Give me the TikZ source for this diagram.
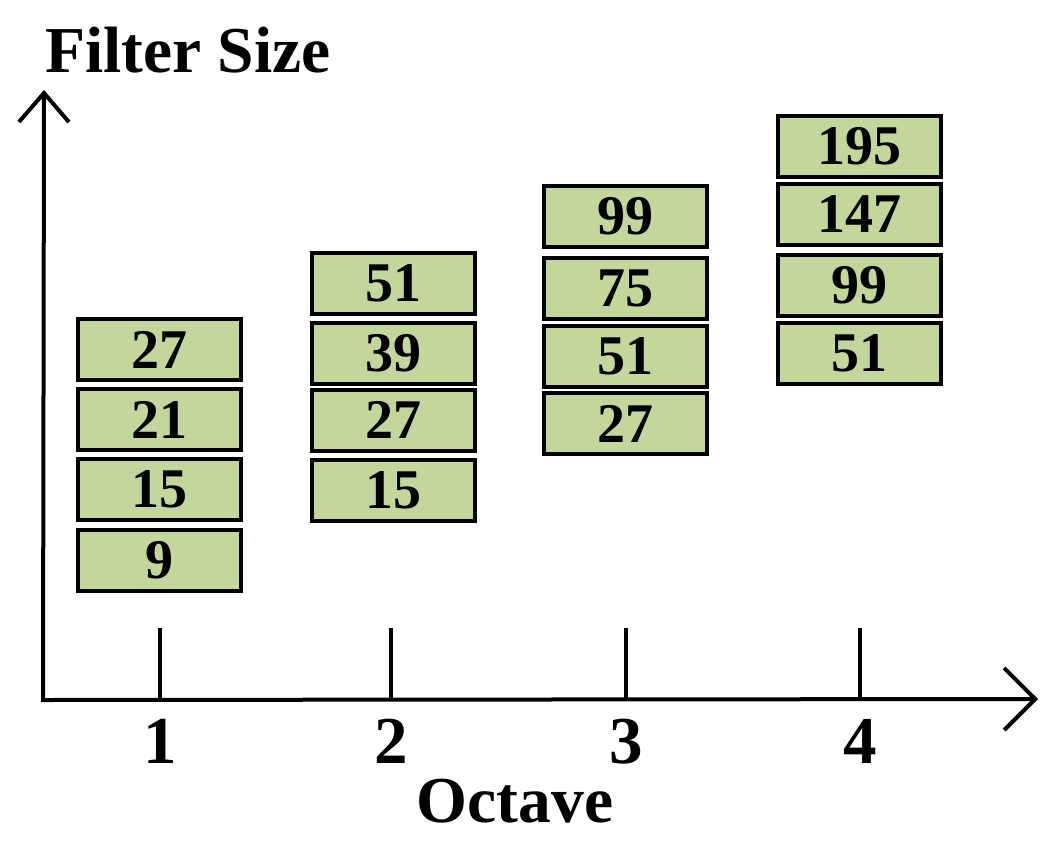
\documentclass[tikz,border=0pt]{standalone}
\usepackage{fontspec}
\setmainfont{Liberation Serif}
\usetikzlibrary{arrows.meta}
\definecolor{boxgreen}{HTML}{C3D69B}
\begin{document}
\begin{tikzpicture}[x=1pt,y=-1pt,
  fbox/.style={draw=black, line width=4pt, fill=boxgreen, minimum width=163pt, minimum height=61pt, inner sep=0pt, font=\fontsize{56}{60}\selectfont\bfseries},
  axisline/.style={line width=4pt, line join=miter},
  tick/.style={line width=4pt},
  ticklabel/.style={anchor=base, inner sep=0pt, font=\fontsize{67}{70}\selectfont\bfseries},
  title/.style={inner sep=0pt, font=\fontsize{65.5}{70}\selectfont\bfseries}]
\useasboundingbox (0,0) rectangle (1064,851);
% axes
\coordinate (O) at (43,700);
\coordinate (ytip) at (44,90);
\coordinate (xtip) at (1038,699);
\draw[axisline, {Straight Barb[length=29pt,width=50pt]}-{Straight Barb[length=31pt,width=62pt]}] (ytip) -- (O) -- (xtip);
% ticks
\foreach \n/\x in {1/160,2/391,3/626,4/860}{
  \coordinate (tt\n) at (\x,628);
  \coordinate (tb\n) at (\x,700);
  \draw[tick] (tt\n) -- (tb\n);
  \node[ticklabel] (tl\n) at (\x,763) {\n};
}
% titles
\node[title, anchor=base west] (ylab) at (45,72) {Filter Size};
\node[title, anchor=base] (xlab) at (515,822) {Octave};
% column 1
\node[fbox] (c1a) at (159.5,349.5) {27};
\node[fbox] (c1b) at (159.5,419.5) {21};
\node[fbox] (c1c) at (159.5,489.5) {15};
\node[fbox] (c1d) at (159.5,560.5) {9};
% column 2
\node[fbox] (c2a) at (393.5,283.5) {51};
\node[fbox] (c2b) at (393.5,353.5) {39};
\node[fbox] (c2c) at (393.5,420) {27};
\node[fbox] (c2d) at (393.5,490.5) {15};
% column 3
\node[fbox] (c3a) at (625,216.5) {99};
\node[fbox] (c3b) at (625,288) {75};
\node[fbox] (c3c) at (625,356.5) {51};
\node[fbox] (c3d) at (625,423.5) {27};
% column 4
\node[fbox] (c4a) at (859,146.5) {195};
\node[fbox] (c4b) at (859,214) {147};
\node[fbox] (c4c) at (859,285.5) {99};
\node[fbox] (c4d) at (859,353) {51};
\end{tikzpicture}
\end{document}
